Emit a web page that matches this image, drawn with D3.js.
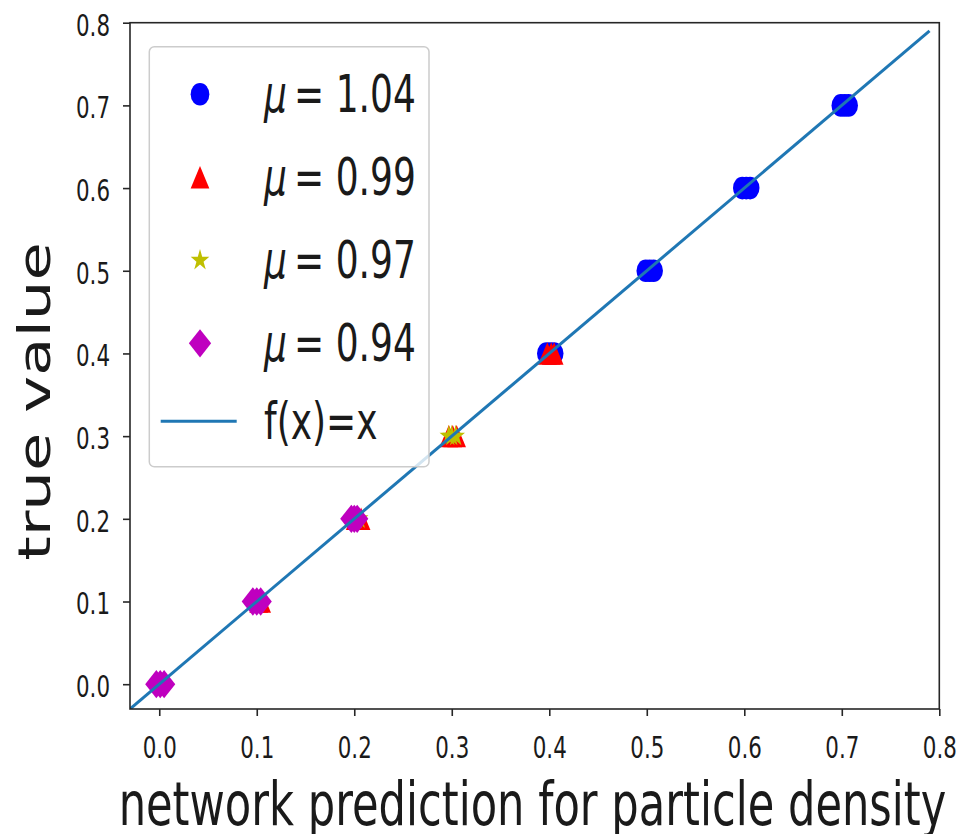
<!DOCTYPE html>
<html>
<head>
<meta charset="utf-8">
<script src="https://cdn.jsdelivr.net/npm/d3@7"></script>
<style>
  body { margin: 0; background: #fff; }
  svg { display: block; }
  text { font-family: "DejaVu Sans", sans-serif; fill: #1a1a1a; }
</style>
</head>
<body>
<svg id="chart" width="966" height="834"></svg>
<script>
// values

var xTicks = [0, 0.1, 0.2, 0.3, 0.4, 0.5, 0.6, 0.7, 0.8];
var yTicks = [0, 0.1, 0.2, 0.3, 0.4, 0.5, 0.6, 0.7, 0.8];

var muValues = ['1.04', '0.99', '0.97', '0.94'];

// mu = 1.04
var blueX = [0.397, 0.401, 0.405, 0.499, 0.503, 0.507, 0.598, 0.602, 0.606, 0.699, 0.703, 0.707];
var blueY = [0.4, 0.4, 0.4, 0.5, 0.5, 0.5, 0.6, 0.6, 0.6, 0.7, 0.7, 0.7];
// mu = 0.99
var redX = [0.102, 0.105, 0.201, 0.204, 0.207, 0.297, 0.301, 0.305, 0.398, 0.402, 0.405];
var redY = [0.1, 0.1, 0.2, 0.2, 0.2, 0.3, 0.3, 0.3, 0.4, 0.4, 0.4];
// mu = 0.97
var yellowX = [0.202, 0.205, 0.297, 0.300, 0.304];
var yellowY = [0.2, 0.2, 0.3, 0.3, 0.3];
// mu = 0.94
var magX = [-0.003, 0.001, 0.005, 0.096, 0.100, 0.104, 0.197, 0.200, 0.203];
var magY = [0, 0, 0, 0.1, 0.1, 0.1, 0.2, 0.2, 0.2];

var lineX = [-0.03, 0.79];

var svg = d3.select('#chart');
var plot = {left: 130, right: 939.3, top: 22.7, bottom: 709};

var x = d3.scaleLinear().domain([-0.03, 0.8]).range([plot.left, plot.right]);
var y = d3.scaleLinear().domain([-0.03, 0.8]).range([plot.bottom, plot.top]);

var triType = {
  draw: function(ctx, size) {
    var r = Math.sqrt(size) / 2;
    ctx.moveTo(0, -r); ctx.lineTo(r, r); ctx.lineTo(-r, r); ctx.closePath();
  }
};
var diamondType = {
  draw: function(ctx, size) {
    var r = Math.sqrt(size) / 2;
    ctx.moveTo(0, -r); ctx.lineTo(r, 0); ctx.lineTo(0, r); ctx.lineTo(-r, 0); ctx.closePath();
  }
};

var series = [
  {mu: muValues[0], xs: blueX, ys: blueY, color: '#0000ff', type: d3.symbolCircle, size: 274.6, sy: 1.21},
  {mu: muValues[1], xs: redX, ys: redY, color: '#ff0000', type: triType, size: 349.7, sy: 1.2},
  {mu: muValues[2], xs: yellowX, ys: yellowY, color: '#bfbf00', type: d3.symbolStar, size: 108, sy: 1.15},
  {mu: muValues[3], xs: magX, ys: magY, color: '#bf00bf', type: diamondType, size: 497, sy: 1.27}
];

svg.append('defs').append('clipPath').attr('id', 'clip')
  .append('rect')
  .attr('x', plot.left).attr('y', plot.top)
  .attr('width', plot.right - plot.left).attr('height', plot.bottom - plot.top);

// markers
var body = svg.append('g').attr('clip-path', 'url(#clip)');
series.forEach(function(s) {
  var pts = s.xs.map(function(v, i) { return {x: v, y: s.ys[i]}; });
  body.append('g').selectAll('path')
    .data(pts)
    .enter().append('path')
    .attr('d', d3.symbol().type(s.type).size(s.size))
    .attr('transform', function(d) { return 'translate(' + x(d.x) + ',' + y(d.y) + ') scale(1,' + s.sy + ')'; })
    .attr('fill', s.color);
});

// f(x) = x
var line = d3.line().x(function(d) { return x(d); }).y(function(d) { return y(d); });
body.append('path')
  .datum(lineX)
  .attr('d', line)
  .attr('fill', 'none')
  .attr('stroke', '#1f77b4')
  .attr('stroke-width', 3);

// axes
var xAxis = svg.append('g')
  .attr('transform', 'translate(0,' + plot.bottom + ')')
  .call(d3.axisBottom(x).tickValues(xTicks).tickSize(7).tickFormat(d3.format('.1f')));
var yAxis = svg.append('g')
  .attr('transform', 'translate(' + plot.left + ',0)')
  .call(d3.axisLeft(y).tickValues(yTicks).tickSize(7).tickFormat(d3.format('.1f')));

[xAxis, yAxis].forEach(function(a) {
  a.select('.domain').remove();
  a.selectAll('.tick line').attr('stroke', '#262626').attr('stroke-width', 1.6);
  a.selectAll('.tick text')
    .attr('x', null).attr('y', null).attr('dy', null)
    .attr('fill', '#1a1a1a')
    .style('font-size', '21.4px')
    .style('font-family', '"DejaVu Sans", sans-serif');
});
xAxis.selectAll('.tick text').attr('text-anchor', 'middle')
  .attr('transform', 'translate(0,49.3) scale(1,1.42)');
yAxis.selectAll('.tick text').attr('text-anchor', 'end')
  .attr('transform', 'translate(-20,12.3) scale(1,1.42)');

// frame
svg.append('rect')
  .attr('x', plot.left).attr('y', plot.top)
  .attr('width', plot.right - plot.left).attr('height', plot.bottom - plot.top)
  .attr('fill', 'none').attr('stroke', '#262626').attr('stroke-width', 1.6);

// axis labels
svg.append('text')
  .attr('transform', 'translate(532.5,825) scale(1,1.42)')
  .attr('text-anchor', 'middle')
  .style('font-size', '43.2px')
  .text('network prediction for particle density');

svg.append('text')
  .attr('transform', 'translate(50,401.5) scale(1,1.42) rotate(-90)')
  .attr('text-anchor', 'middle')
  .style('font-size', '44px')
  .text('true value');

// legend
var legend = svg.append('g');
legend.append('rect')
  .attr('x', 149.3).attr('y', 46.7).attr('width', 279.7).attr('height', 420)
  .attr('rx', 5)
  .attr('fill', '#fff').attr('fill-opacity', 0.8)
  .attr('stroke', '#cccccc').attr('stroke-width', 1.5);

var rowGap = 83;
series.forEach(function(s, i) {
  var cy = 94.3 + i * rowGap;
  legend.append('path')
    .attr('d', d3.symbol().type(s.type).size(s.size))
    .attr('transform', 'translate(200,' + cy + ') scale(1,' + s.sy + ')')
    .attr('fill', s.color);
  var t = legend.append('text')
    .attr('transform', 'translate(264,' + (cy + 17.4) + ') scale(1,1.42)')
    .style('font-size', '36px');
  t.append('tspan').style('font-style', 'italic').text('\u03bc');
  t.append('tspan').text('\u2009= ' + s.mu);
});

var ly = 94.3 + 4 * rowGap - 5;
legend.append('line')
  .attr('x1', 160.7).attr('x2', 236.7)
  .attr('y1', ly).attr('y2', ly)
  .attr('stroke', '#1f77b4').attr('stroke-width', 3);
legend.append('text')
  .attr('transform', 'translate(264,' + (ly + 17.4) + ') scale(1,1.42)')
  .style('font-size', '36px')
  .text('f(x)=x');
</script>
</body>
</html>
